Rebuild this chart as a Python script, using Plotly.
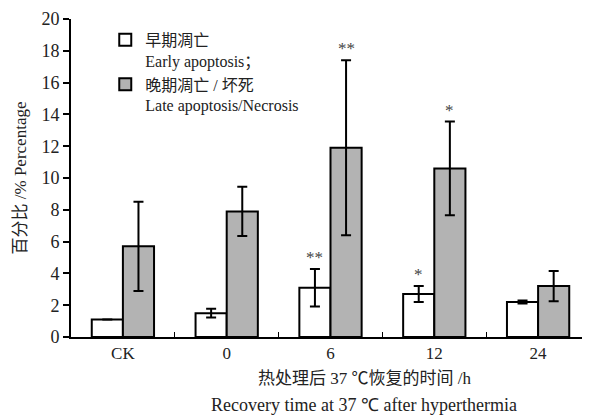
import plotly.graph_objects as go

categories = ["CK", "0", "6", "12", "24"]
early_vals = [1.1, 1.5, 3.1, 2.7, 2.2]
early_err = [None, 0.28, 1.18, 0.5, 0.1]
late_vals = [5.7, 7.9, 11.9, 10.6, 3.2]
late_err = [2.8, 1.55, 5.5, 2.95, 0.95]
early_sig = ["", "", "**", "*", ""]
late_sig = ["", "", "**", "*", ""]

yticks = list(range(0, 21, 2))

serif = "Liberation Serif, Times New Roman, serif"
cjk = "Liberation Serif, Noto Sans CJK SC, serif"

fig = go.Figure()
fig.add_trace(go.Bar(
    x=categories, y=early_vals,
    error_y=dict(type="data", array=early_err, visible=True, color="black", thickness=2, width=5),
    marker=dict(color="white", line=dict(color="black", width=2)),
    name="早期凋亡<br>Early apoptosis；",
))
fig.add_trace(go.Bar(
    x=categories, y=late_vals,
    error_y=dict(type="data", array=late_err, visible=True, color="black", thickness=2, width=5),
    marker=dict(color="#b3b3b3", line=dict(color="black", width=2)),
    name="晚期凋亡 / 坏死<br>Late apoptosis/Necrosis",
))

bargap = 0.4
bar_off = (1 - bargap) / 4  # offset of each bar centre from category centre (axis units)

annotations = []
for i, c in enumerate(categories):
    if early_sig[i]:
        annotations.append(dict(x=i - bar_off, y=early_vals[i] + (early_err[i] or 0), xref="x", yref="y",
                                text=early_sig[i], showarrow=False, yshift=0,
                                yanchor="bottom", font=dict(family=serif, size=17, color="#444444")))
    if late_sig[i]:
        annotations.append(dict(x=i + bar_off, y=late_vals[i] + (late_err[i] or 0), xref="x", yref="y",
                                text=late_sig[i], showarrow=False, yshift=0,
                                yanchor="bottom", font=dict(family=serif, size=17, color="#444444")))

annotations.append(dict(x=0.565, y=-0.129, xref="paper", yref="paper", yanchor="middle",
                        text="热处理后 37 ℃恢复的时间 /h", showarrow=False,
                        font=dict(family=cjk, size=17, color="#222")))
annotations.append(dict(x=0.565, y=-0.214, xref="paper", yref="paper", yanchor="middle",
                        text="Recovery time at 37 ℃ after hyperthermia", showarrow=False,
                        font=dict(family=serif, size=18, color="#222")))

# the page body has an 8px margin, so the figure is drawn 8px right and down
fig.update_layout(
    width=582, height=408,
    margin=dict(l=63, r=0, t=11, b=79),
    paper_bgcolor="white", plot_bgcolor="white",
    barmode="group", bargap=bargap, bargroupgap=0,
    showlegend=True,
    legend=dict(x=0.066, y=0.988, xanchor="left", yanchor="top",
                font=dict(family=cjk, size=16, color="#222"),
                bgcolor="rgba(0,0,0,0)", tracegroupgap=2, valign="top"),
    annotations=annotations,
    xaxis=dict(type="category", range=[-0.5, 4.5], autorange=False, automargin=False,
               showline=True, linecolor="black", linewidth=2,
               ticks="inside", tickson="boundaries", ticklen=5, tickwidth=1, tickcolor="black",
               tickfont=dict(family=serif, size=17, color="#222"), showgrid=False),
    yaxis=dict(range=[0, 20], autorange=False, automargin=False, tickvals=yticks,
               showline=True, linecolor="black", linewidth=2,
               ticks="outside", ticklen=6, tickwidth=1.5, tickcolor="black",
               tickfont=dict(family=serif, size=18, color="#222"), showgrid=False, zeroline=False,
               title=dict(text="百分比 /% Percentage", font=dict(family=cjk, size=17, color="#222"),
                          standoff=10)),
)

fig.write_html("out.html")
